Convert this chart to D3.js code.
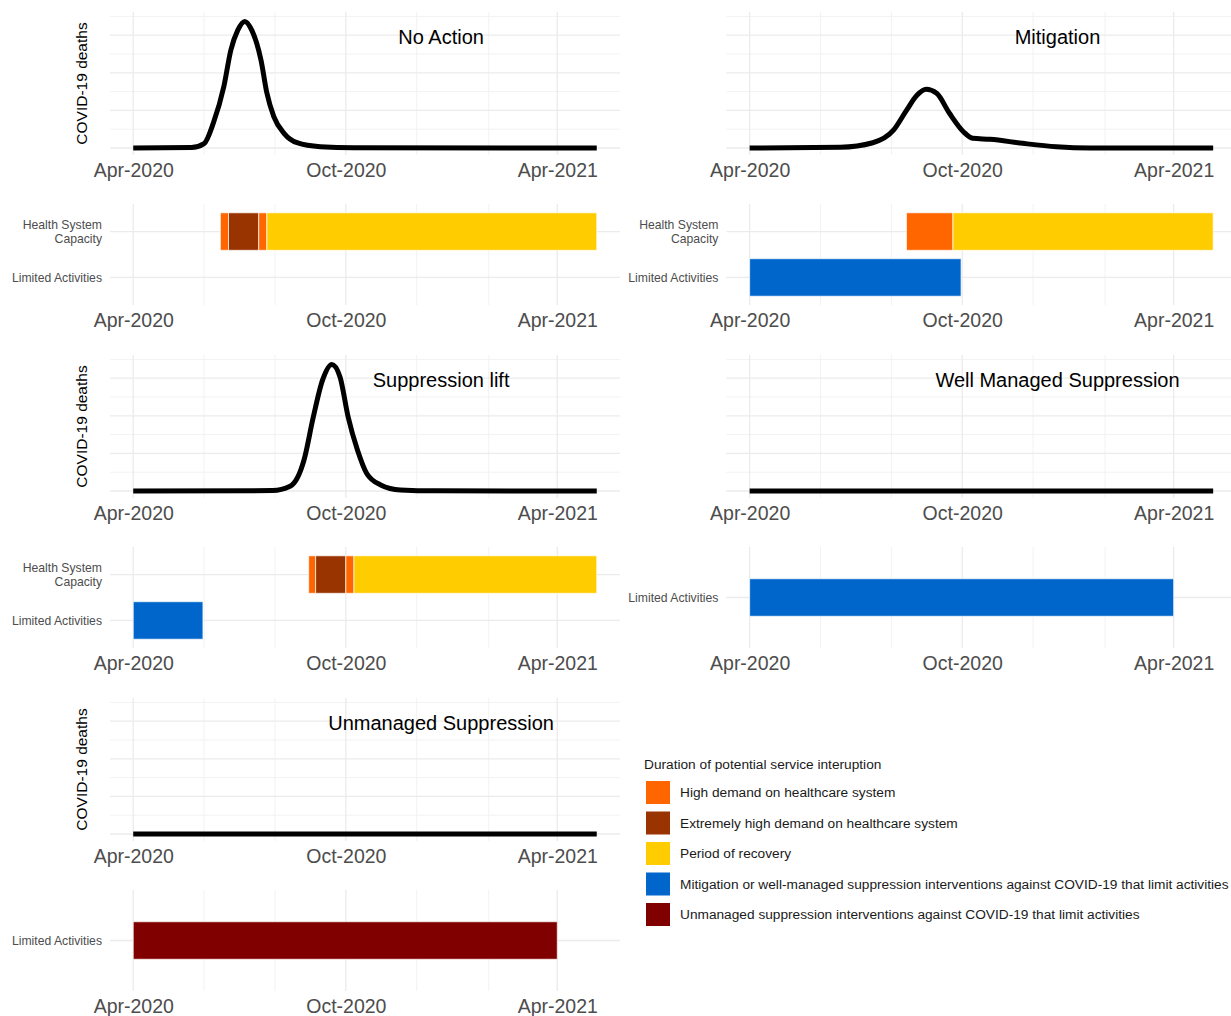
<!DOCTYPE html>
<html><head><meta charset="utf-8">
<script src="https://cdn.jsdelivr.net/npm/d3@7"></script>
<style>
body{margin:0;background:#fff}
svg{display:block;font-family:"Liberation Sans",Arial,Helvetica,sans-serif}
</style>
</head><body>
<svg id="chart" width="1231" height="1016"></svg>
<script>
// ---------------- DATA ----------------
const scenarios = ["No Action", "Mitigation", "Suppression lift", "Well Managed Suppression", "Unmanaged Suppression"];

// COVID-19 deaths curves (relative units)
const noActionDates  = ["2020-04-01","2020-05-21","2020-06-01","2020-06-09","2020-06-18","2020-06-24","2020-06-30","2020-07-06","2020-07-12","2020-07-20","2020-07-25","2020-07-31","2020-08-09","2020-08-20","2020-09-09","2020-10-08","2021-05-05"];
const noActionDeaths = [0, 0.3, 3.5, 20, 49, 78, 94, 101, 94, 70, 44, 25, 11.5, 4.2, 1, 0.2, 0];

const mitigationDates  = ["2020-04-01","2020-06-18","2020-07-16","2020-08-03","2020-08-14","2020-08-23","2020-08-31","2020-09-09","2020-09-20","2020-10-02","2020-10-10","2020-10-25","2020-11-22","2020-12-21","2021-01-19","2021-05-05"];
const mitigationDeaths = [0, 0.6, 4.2, 14.4, 30, 42, 46.8, 43.6, 27.7, 13, 7.7, 6.9, 3.7, 1, 0, 0];

const suppLiftDates  = ["2020-04-01","2020-07-30","2020-08-14","2020-08-26","2020-09-03","2020-09-11","2020-09-19","2020-09-26","2020-10-03","2020-10-11","2020-10-19","2020-10-31","2020-11-17","2020-12-17","2021-05-05"];
const suppLiftDeaths = [0, 0.3, 3.7, 24.7, 59, 88.6, 101, 91, 59, 32.7, 14, 4.8, 0.8, 0.1, 0];

const wellManagedDates  = ["2020-04-01","2021-05-05"];
const wellManagedDeaths = [0, 0];

const unmanagedDates  = ["2020-04-01","2021-05-05"];
const unmanagedDeaths = [0, 0];

// Service interruption periods
const periodTypes  = ["High demand on healthcare system", "Extremely high demand on healthcare system", "Period of recovery", "Mitigation or well-managed suppression interventions against COVID-19 that limit activities", "Unmanaged suppression interventions against COVID-19 that limit activities"];
const periodColors = ["#FF6600", "#993300", "#FFCC00", "#0066CC", "#800000"];
const legendTitle  = "Duration of potential service interuption";

const barCategoriesFull = ["Health System Capacity", "Limited Activities"];
const barCategoriesLA   = ["Limited Activities"];

const noActionBarCat   = [0, 0, 0, 0];
const noActionBarType  = [0, 1, 0, 2];
const noActionBarStart = ["2020-06-15","2020-06-22","2020-07-18","2020-07-25"];
const noActionBarEnd   = ["2020-06-22","2020-07-18","2020-07-25","2021-05-05"];

const mitigationBarCat   = [0, 0, 1];
const mitigationBarType  = [0, 2, 3];
const mitigationBarStart = ["2020-08-14","2020-09-23","2020-04-01"];
const mitigationBarEnd   = ["2020-09-23","2021-05-05","2020-09-30"];

const suppLiftBarCat   = [0, 0, 0, 0, 1];
const suppLiftBarType  = [0, 1, 0, 2, 3];
const suppLiftBarStart = ["2020-08-30","2020-09-05","2020-10-01","2020-10-08","2020-04-01"];
const suppLiftBarEnd   = ["2020-09-05","2020-10-01","2020-10-08","2021-05-05","2020-05-31"];

const wellManagedBarCat   = [0];
const wellManagedBarType  = [3];
const wellManagedBarStart = ["2020-04-01"];
const wellManagedBarEnd   = ["2021-04-01"];

const unmanagedBarCat   = [0];
const unmanagedBarType  = [4];
const unmanagedBarStart = ["2020-04-01"];
const unmanagedBarEnd   = ["2021-04-01"];

// axis ticks
const xTickDates  = ["2020-04-01","2020-10-01","2021-04-01"];
const xTickLabels = ["Apr-2020","Oct-2020","Apr-2021"];
const xMinorDates = ["2020-06-01","2020-08-01","2020-12-01","2021-02-01"];
const yMajorTicks = [0, 30, 60, 90];
const yMinorTicks = [15, 45, 75, 105];
const yTitle = "COVID-19 deaths";
const titleDate = "2020-12-22";
const titleValue = 88.5;

// --------------- BUILD ---------------
const parse = d3.timeParse("%Y-%m-%d");
const panels = [
  {name: scenarios[0], dates: noActionDates, deaths: noActionDeaths, cats: barCategoriesFull,
   bc: noActionBarCat, bt: noActionBarType, bs: noActionBarStart, be: noActionBarEnd},
  {name: scenarios[1], dates: mitigationDates, deaths: mitigationDeaths, cats: barCategoriesFull,
   bc: mitigationBarCat, bt: mitigationBarType, bs: mitigationBarStart, be: mitigationBarEnd},
  {name: scenarios[2], dates: suppLiftDates, deaths: suppLiftDeaths, cats: barCategoriesFull,
   bc: suppLiftBarCat, bt: suppLiftBarType, bs: suppLiftBarStart, be: suppLiftBarEnd},
  {name: scenarios[3], dates: wellManagedDates, deaths: wellManagedDeaths, cats: barCategoriesLA,
   bc: wellManagedBarCat, bt: wellManagedBarType, bs: wellManagedBarStart, be: wellManagedBarEnd},
  {name: scenarios[4], dates: unmanagedDates, deaths: unmanagedDeaths, cats: barCategoriesLA,
   bc: unmanagedBarCat, bt: unmanagedBarType, bs: unmanagedBarStart, be: unmanagedBarEnd}
];

const svg = d3.select("#chart");
const xDomain = [parse("2020-03-12"), parse("2021-05-25")];
const colOffset = 616.4, rowOffset = 343;
const majorGrid = "#ebebeb", minorGrid = "#f2f2f2";
const tickColor = "#4d4d4d";

panels.forEach((p, i) => {
  const col = i % 2, row = Math.floor(i / 2);
  const ox = col * colOffset, oy = row * rowOffset;
  const x = d3.scaleTime().domain(xDomain).range([110 + ox, 620 + ox]);
  const g = svg.append("g");

  // ---- line panel ----
  const top = 12 + oy, bottom = 155 + oy;
  const y = d3.scaleLinear().domain([-5.6, 108.5]).range([bottom, top]);
  const [x0, x1] = x.range();

  g.selectAll(null).data(yMinorTicks).join("line")
    .attr("x1", x0).attr("x2", x1).attr("y1", d => y(d)).attr("y2", d => y(d))
    .attr("stroke", minorGrid).attr("stroke-width", 1);
  g.selectAll(null).data(xMinorDates).join("line")
    .attr("x1", d => x(parse(d))).attr("x2", d => x(parse(d))).attr("y1", top).attr("y2", bottom)
    .attr("stroke", minorGrid).attr("stroke-width", 1);
  g.selectAll(null).data(yMajorTicks).join("line")
    .attr("x1", x0).attr("x2", x1).attr("y1", d => y(d)).attr("y2", d => y(d))
    .attr("stroke", majorGrid).attr("stroke-width", 1.3);
  g.selectAll(null).data(xTickDates).join("line")
    .attr("x1", d => x(parse(d))).attr("x2", d => x(parse(d))).attr("y1", top).attr("y2", bottom)
    .attr("stroke", majorGrid).attr("stroke-width", 1.3);

  const pts = p.dates.map((d, k) => [parse(d), p.deaths[k]]);
  const line = d3.line().x(d => x(d[0])).y(d => y(d[1])).curve(d3.curveMonotoneX);
  g.append("path").attr("d", line(pts)).attr("fill", "none")
    .attr("stroke", "#000").attr("stroke-width", 5).attr("stroke-linejoin", "round");

  g.append("text").attr("x", x(parse(titleDate))).attr("y", y(titleValue))
    .attr("text-anchor", "middle").attr("dominant-baseline", "central")
    .attr("font-size", 20).attr("fill", "#000").text(p.name);

  if (col === 0) {
    g.append("text").attr("transform", `translate(81,${(top + bottom) / 2}) rotate(-90)`)
      .attr("text-anchor", "middle").attr("dominant-baseline", "central")
      .attr("font-size", 15.5).attr("fill", "#000").text(yTitle);
  }

  const axis = d3.axisBottom(x).tickValues(xTickDates.map(parse))
    .tickFormat((d, k) => xTickLabels[k]).tickSize(0).tickPadding(8);
  const ax1 = g.append("g").attr("transform", `translate(0,${bottom})`).call(axis);
  ax1.select(".domain").remove();
  ax1.selectAll("text").attr("font-size", 19.5).attr("fill", tickColor)
    .attr("font-family", "Liberation Sans, Arial, sans-serif");

  // ---- bar panel ----
  const bTop = 204 + oy, bBottom = 305 + oy;
  const yb = d3.scalePoint().domain(p.cats).range([bTop, bBottom]).padding(0.6);
  const barH = 37.5;

  g.selectAll(null).data(xMinorDates).join("line")
    .attr("x1", d => x(parse(d))).attr("x2", d => x(parse(d))).attr("y1", bTop).attr("y2", bBottom)
    .attr("stroke", minorGrid).attr("stroke-width", 1);
  g.selectAll(null).data(xTickDates).join("line")
    .attr("x1", d => x(parse(d))).attr("x2", d => x(parse(d))).attr("y1", bTop).attr("y2", bBottom)
    .attr("stroke", majorGrid).attr("stroke-width", 1.3);
  g.selectAll(null).data(p.cats).join("line")
    .attr("x1", x0).attr("x2", x1).attr("y1", d => yb(d)).attr("y2", d => yb(d))
    .attr("stroke", majorGrid).attr("stroke-width", 1.3);

  const bars = p.bc.map((c, k) => ({cat: p.cats[c], type: p.bt[k], s: parse(p.bs[k]), e: parse(p.be[k])}));
  g.selectAll(null).data(bars).join("rect")
    .attr("x", d => x(d.s)).attr("width", d => x(d.e) - x(d.s))
    .attr("y", d => yb(d.cat) - barH / 2).attr("height", barH)
    .attr("fill", d => periodColors[d.type])
    .attr("stroke", "#ffffff").attr("stroke-opacity", 0.7).attr("stroke-width", 1);

  // category labels
  p.cats.forEach(c => {
    const words = c === "Health System Capacity" ? ["Health System", "Capacity"] : [c];
    const t = g.append("text").attr("x", x0 - 8).attr("text-anchor", "end")
      .attr("font-size", 12.2).attr("fill", tickColor);
    words.forEach((w, k) => {
      t.append("tspan").attr("x", x0 - 8)
        .attr("y", yb(c) + (k - (words.length - 1) / 2) * 14)
        .attr("dy", "0.35em").text(w);
    });
  });

  const ax2 = g.append("g").attr("transform", `translate(0,${bBottom})`).call(axis);
  ax2.select(".domain").remove();
  ax2.selectAll("text").attr("font-size", 19.5).attr("fill", tickColor)
    .attr("font-family", "Liberation Sans, Arial, sans-serif");
});

// ---- legend ----
const lg = svg.append("g").attr("transform", "translate(644,0)");
lg.append("text").attr("x", 0).attr("y", 764).attr("dominant-baseline", "central")
  .attr("font-size", 13.7).attr("fill", "#1a1a1a").text(legendTitle);
const ly = d3.scalePoint().domain(periodTypes).range([792.5, 914.5]);
lg.selectAll(null).data(periodTypes).join("rect")
  .attr("x", 2).attr("y", d => ly(d) - 11.5).attr("width", 24).attr("height", 23)
  .attr("fill", (d, k) => periodColors[k]);
lg.selectAll(null).data(periodTypes).join("text")
  .attr("x", 36).attr("y", d => ly(d)).attr("dominant-baseline", "central")
  .attr("font-size", 13.7).attr("fill", "#1a1a1a").text(d => d);
</script>
</body></html>
